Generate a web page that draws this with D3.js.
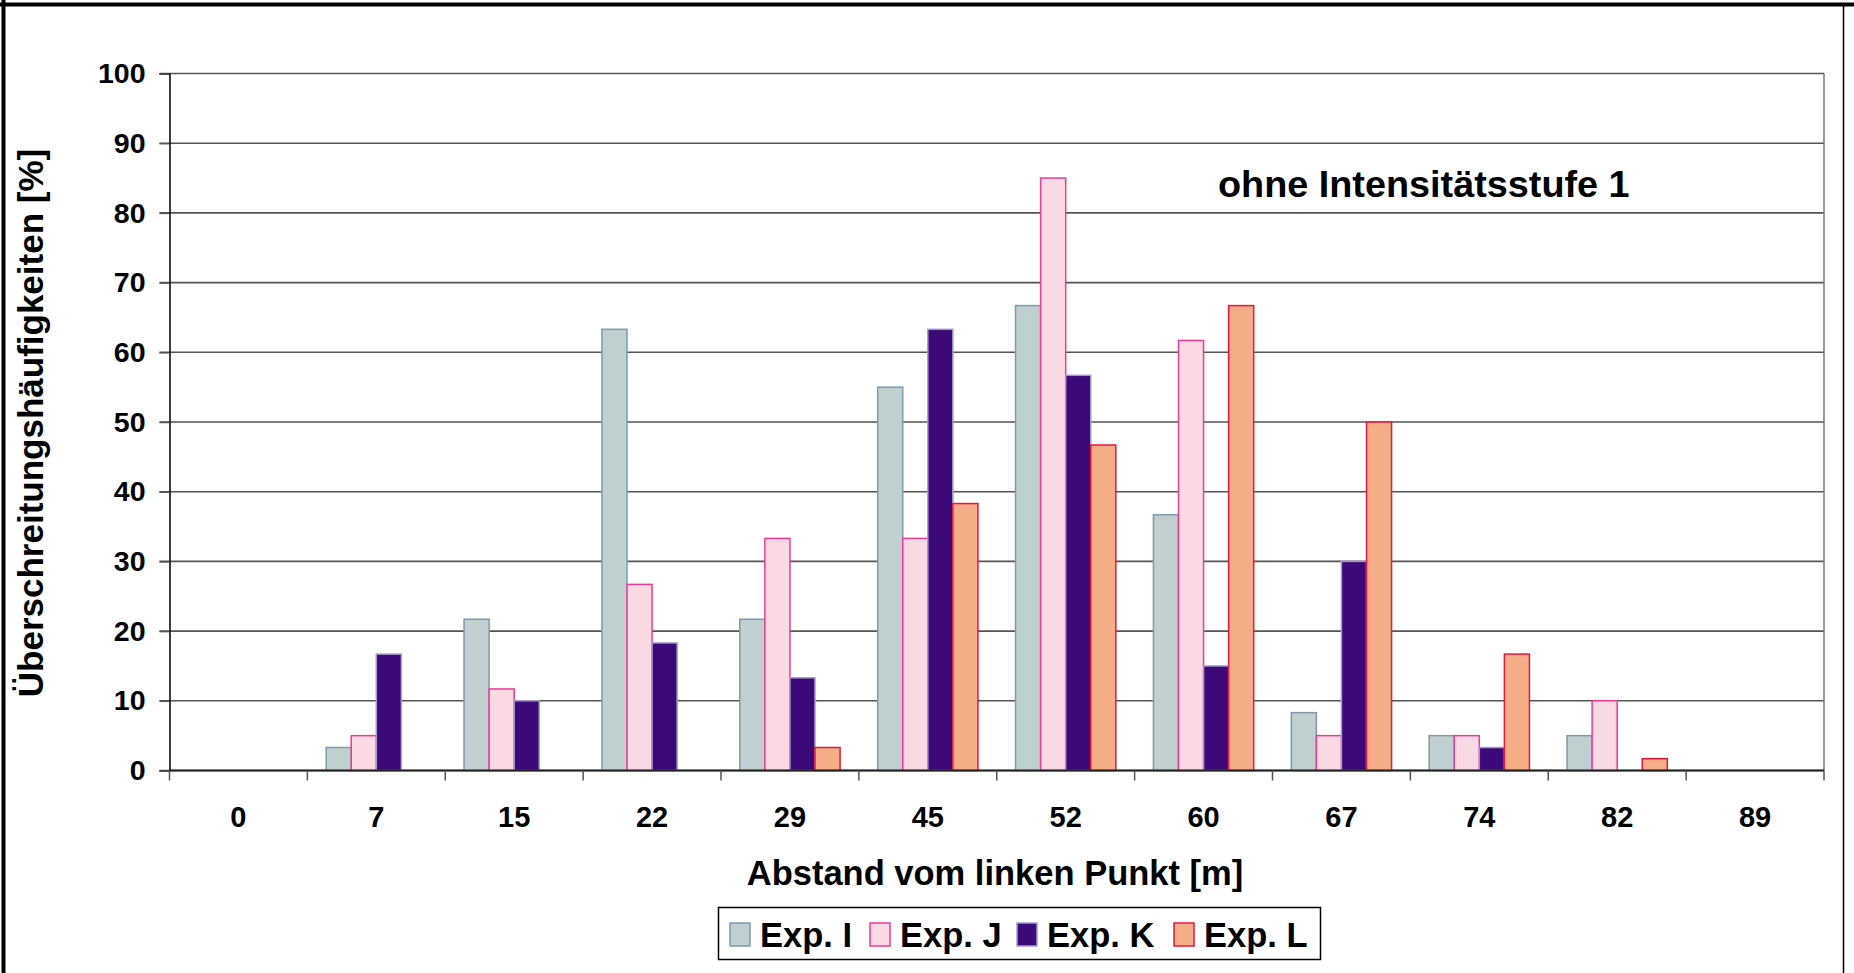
<!DOCTYPE html>
<html>
<head>
<meta charset="utf-8">
<script src="https://cdn.jsdelivr.net/npm/d3@7"></script>
<style>
  body { margin: 0; background: #fff; }
  svg { display: block; font-family: "Liberation Sans", Arial, sans-serif; font-weight: bold; }
</style>
</head>
<body>
<svg width="1854" height="973"></svg>
<script>
// distance categories [m]
var categories = ["0", "7", "15", "22", "29", "45", "52", "60", "67", "74", "82", "89"];

var seriesNames = ["Exp. I", "Exp. J", "Exp. K", "Exp. L"];

var expI = [0, 3.3, 21.7, 63.3, 21.7, 55, 66.7, 36.7, 8.3, 5, 5, 0];
var expJ = [0, 5, 11.7, 26.7, 33.3, 33.3, 85, 61.7, 5, 5, 10, 0];
var expK = [0, 16.7, 10, 18.3, 13.3, 63.3, 56.7, 15, 30, 3.3, 0, 0];
var expL = [0, 0, 0, 0, 3.3, 38.3, 46.7, 66.7, 50, 16.7, 1.7, 0];

var yTicks = [0, 10, 20, 30, 40, 50, 60, 70, 80, 90, 100];

var fills   = ["#c0cfcf", "#fbd9e3", "#3c0a78", "#f5ad87"];
var strokes = ["#7f9aab", "#ee3a97", "#a99acc", "#e8163c"];

var svg = d3.select("svg"),
    width = +svg.attr("width"),
    height = +svg.attr("height");

var plot = {left: 169.5, right: 1824, top: 73.5, bottom: 770.5};

var x0 = d3.scaleBand()
           .domain(categories)
           .range([plot.left, plot.right])
           .padding(0);

// gap width 150% like the original spreadsheet chart
var bw = x0.bandwidth() / 5.5;
var x1 = d3.scaleBand()
           .domain(seriesNames)
           .range([0.75 * bw, 4.75 * bw])
           .padding(0);

var y = d3.scaleLinear()
          .domain([0, 100])
          .range([plot.bottom, plot.top]);

// outer frame
svg.append("line").attr("x1", 0).attr("x2", width).attr("y1", 4.5).attr("y2", 4.5)
   .attr("stroke", "#000").attr("stroke-width", 4);
svg.append("line").attr("x1", 3.5).attr("x2", 3.5).attr("y1", 0).attr("y2", height)
   .attr("stroke", "#000").attr("stroke-width", 4);
svg.append("line").attr("x1", 1843.5).attr("x2", 1843.5).attr("y1", 4).attr("y2", height)
   .attr("stroke", "#000").attr("stroke-width", 1.5);

// gridlines
svg.append("g")
   .selectAll("line")
   .data(yTicks)
   .enter().append("line")
   .attr("x1", plot.left - 10)
   .attr("x2", plot.right)
   .attr("y1", d => y(d))
   .attr("y2", d => y(d))
   .attr("stroke", "#555")
   .attr("stroke-width", 1.6);

// right edge of plot area
svg.append("line")
   .attr("x1", plot.right).attr("x2", plot.right)
   .attr("y1", plot.top).attr("y2", plot.bottom)
   .attr("stroke", "#777").attr("stroke-width", 1.5);

// bars
var series = [expI, expJ, expK, expL];
var groups = svg.append("g")
                .selectAll("g")
                .data(series)
                .enter().append("g")
                .attr("fill", (d, i) => fills[i])
                .attr("stroke", (d, i) => strokes[i])
                .attr("stroke-width", 1.5);

groups.each(function(vals, si) {
  d3.select(this)
    .selectAll("rect")
    .data(vals.map((v, ci) => ({cat: categories[ci], v: v})).filter(d => d.v > 0))
    .enter().append("rect")
    .attr("x", d => x0(d.cat) + x1(seriesNames[si]))
    .attr("width", x1.bandwidth())
    .attr("y", d => y(d.v))
    .attr("height", d => y(0) - y(d.v));
});

// y axis
var yAxis = svg.append("g")
               .attr("transform", `translate(${plot.left},0)`)
               .call(d3.axisLeft(y).tickValues(yTicks).tickSize(10).tickPadding(14));
yAxis.select(".domain").attr("stroke", "#000").attr("stroke-width", 1.5);
yAxis.selectAll(".tick line").attr("stroke", "#555").attr("stroke-width", 1.5);
yAxis.selectAll("text")
     .attr("font-size", 28.5)
     .attr("font-weight", "bold")
     .attr("font-family", "Liberation Sans, Arial, sans-serif")
     .attr("fill", "#000");

// x axis: ticks between categories, labels centered
var bounds = categories.map(c => x0(c)).concat([plot.right]);
svg.append("line")
   .attr("x1", plot.left).attr("x2", plot.right)
   .attr("y1", plot.bottom).attr("y2", plot.bottom)
   .attr("stroke", "#222").attr("stroke-width", 1.8);
svg.append("g")
   .selectAll("line")
   .data(bounds)
   .enter().append("line")
   .attr("x1", d => d).attr("x2", d => d)
   .attr("y1", plot.bottom).attr("y2", plot.bottom + 10)
   .attr("stroke", "#555").attr("stroke-width", 1.5);
svg.append("g")
   .selectAll("text")
   .data(categories)
   .enter().append("text")
   .attr("x", d => x0(d) + x0.bandwidth() / 2)
   .attr("y", 827)
   .attr("text-anchor", "middle")
   .attr("font-size", 29)
   .text(d => d);

// axis titles
svg.append("text")
   .attr("x", 995)
   .attr("y", 885)
   .attr("text-anchor", "middle")
   .attr("font-size", 34.5)
   .text("Abstand vom linken Punkt [m]");

svg.append("text")
   .attr("transform", "translate(43,423) rotate(-90)")
   .attr("text-anchor", "middle")
   .attr("font-size", 35)
   .text("Überschreitungshäufigkeiten [%]");

svg.append("text")
   .attr("x", 1218)
   .attr("y", 197)
   .attr("font-size", 37.8)
   .text("ohne Intensitätsstufe 1");

// legend
var legend = svg.append("g");
legend.append("rect")
      .attr("x", 718.5).attr("y", 907.5)
      .attr("width", 602).attr("height", 52)
      .attr("fill", "#fff").attr("stroke", "#000").attr("stroke-width", 1.5);

var legendX = [730, 870, 1017, 1174];
var item = legend.selectAll("g.item")
                 .data(seriesNames)
                 .enter().append("g")
                 .attr("class", "item")
                 .attr("transform", (d, i) => `translate(${legendX[i]},923)`);
item.append("rect")
    .attr("width", 20).attr("height", 23)
    .attr("fill", (d, i) => fills[i])
    .attr("stroke", (d, i) => strokes[i])
    .attr("stroke-width", 1.5);
item.append("text")
    .attr("x", 30).attr("y", 24)
    .attr("font-size", 34.5)
    .text(d => d);
</script>
</body>
</html>
